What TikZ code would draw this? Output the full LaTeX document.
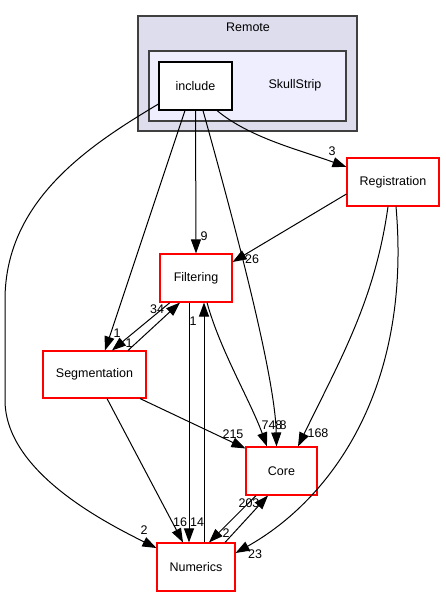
\documentclass[tikz,border=0pt]{standalone}
\usepackage{fontspec}
\setmainfont{Liberation Sans}
\usetikzlibrary{arrows.meta, positioning}
\definecolor{clusterouter}{HTML}{DDDDEE}
\definecolor{clusterinner}{HTML}{EEEEFF}
\definecolor{clusterline}{HTML}{404040}
\definecolor{dirred}{HTML}{FF0000}

\begin{document}
\begin{tikzpicture}[x=1pt, y=-1pt,
  cluster/.style={draw=clusterline, line width=1.3pt, inner sep=0pt},
  dirbox/.style={draw=dirred, fill=white, line width=1.1pt, minimum height=48pt, inner sep=0pt, font=\fontsize{12.5}{14}\selectfont},
  dep/.style={-{Triangle[length=14pt, width=10pt]}, line width=1pt},
  cnt/.style={font=\fontsize{12.5}{14}\selectfont, inner sep=0pt}
]
  \fill[white] (0,0) rectangle (445,596);
  \useasboundingbox (0,0) rectangle (445,596);

  % clusters
  \node[cluster, fill=clusterouter, minimum width=219pt, minimum height=115pt] (remote) at (247.5,73.5) {};
  \node[cnt] (remoteLabel) at (248,27) {Remote};
  \node[cluster, fill=clusterinner, minimum width=197pt, minimum height=70pt] (skull) at (247.5,86) {};
  \node[cnt] (skullLabel) at (295,85) {SkullStrip};

  % directories
  \node[dirbox, draw=black, minimum width=73pt] (include) at (195.5,86) {include};
  \node[dirbox, minimum width=92pt] (Registration) at (393,182) {Registration};
  \node[dirbox, minimum width=72pt] (Filtering) at (196,278) {Filtering};
  \node[dirbox, minimum width=103pt, minimum height=47pt] (Segmentation) at (94.5,374.5) {Segmentation};
  \node[dirbox, minimum width=71pt] (Core) at (281.5,471) {Core};
  \node[dirbox, minimum width=78pt] (Numerics) at (196,567) {Numerics};

  % dependencies
  \draw[dep] ([xshift=21.5pt]include.south) .. controls (250,138) and (300,150) .. ([yshift=15pt]Registration.west);
  \draw[dep] (include.south) -- (Filtering.north);
  \draw[dep] ([xshift=7.5pt]include.south) .. controls (225,190) and (275,370) .. ([xshift=-5pt]Core.north);
  \draw[dep] ([xshift=-10.5pt]include.south) -- ([xshift=10.5pt]Segmentation.north);
  \draw[dep] ([yshift=-18pt]include.west) .. controls (90,145) and (5,200) .. (5,300)
    -- (5,400) .. controls (5,470) and (100,520) .. ([yshift=19pt]Numerics.west);

  \draw[dep] ([yshift=-12pt]Registration.west) -- ([yshift=16pt]Filtering.east);
  \draw[dep] ([xshift=-5pt]Registration.south) .. controls (375,300) and (340,360) .. ([xshift=16.5pt]Core.north);
  \draw[dep] ([xshift=3pt]Registration.south) .. controls (412,390) and (330,500) .. ([yshift=14pt]Numerics.east);

  \draw[dep] ([xshift=-26pt]Filtering.south) -- ([xshift=17.5pt]Segmentation.north);
  \draw[dep] ([xshift=33.5pt]Segmentation.north) -- ([xshift=-16pt]Filtering.south);
  \draw[dep] ([xshift=11pt]Filtering.south) .. controls (220,350) and (250,400) .. ([xshift=-14.5pt]Core.north);
  \draw[dep] ([xshift=-7pt]Filtering.south) -- ([xshift=-7pt]Numerics.north);
  \draw[dep] ([xshift=8pt]Numerics.north) -- ([xshift=8pt]Filtering.south);

  \draw[dep] ([xshift=12.5pt]Segmentation.south) -- ([xshift=-13pt]Numerics.north);
  \draw[dep] ([xshift=45.5pt]Segmentation.south) -- ([yshift=-2pt]Core.north west);

  \draw[dep] ([xshift=-25.5pt]Core.south) -- ([xshift=13pt]Numerics.north);
  \draw[dep] ([xshift=29pt]Numerics.north) -- ([xshift=-13.5pt]Core.south);

  % counts
  \node[cnt] (n3) at (332,151) {3};
  \node[cnt] (n9) at (204,236) {9};
  \node[cnt] (n26) at (252,259) {26};
  \node[cnt] (n34) at (157,309) {34};
  \node[cnt] (n1a) at (117,333) {1};
  \node[cnt] (n1b) at (129,343) {1};
  \node[cnt] (n1c) at (193,321) {1};
  \node[cnt] (n748) at (272,425) {748};
  \node[cnt] (n8) at (283,425) {8};
  \node[cnt] (n168) at (318,433) {168};
  \node[cnt] (n215) at (233,434) {215};
  \node[cnt] (n16) at (180,522) {16};
  \node[cnt] (n14) at (197,522) {14};
  \node[cnt] (n2a) at (226,533) {2};
  \node[cnt] (n203) at (249,503) {203};
  \node[cnt] (n2b) at (144,530) {2};
  \node[cnt] (n23) at (255,554) {23};
\end{tikzpicture}
\end{document}
